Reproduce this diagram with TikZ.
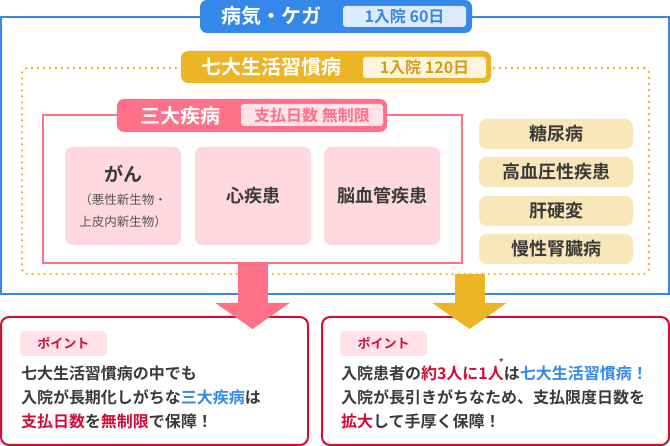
\documentclass[tikz,border=0pt]{standalone}
\usepackage{fontspec}
\setmainfont{Noto Sans CJK JP}[BoldFont={* Bold}]
\usetikzlibrary{arrows.meta}

\definecolor{blau}{HTML}{3388E8}
\definecolor{hellblau}{HTML}{DCEBFC}
\definecolor{gelb}{HTML}{EBB526}
\definecolor{hellgelb}{HTML}{FFF5DE}
\definecolor{gelbtext}{HTML}{D99E10}
\definecolor{rosa}{HTML}{FF7089}
\definecolor{hellrosa}{HTML}{FFE3E9}
\definecolor{rosabox}{HTML}{FFD8E0}
\definecolor{beige}{HTML}{FAE7B9}
\definecolor{rot}{HTML}{D50C35}
\definecolor{txt}{HTML}{3A3A3A}
\definecolor{subtxt}{HTML}{555555}

\newcommand{\fsz}[2]{\fontsize{#1}{#2}\selectfont}

\begin{document}
\begin{tikzpicture}[x=1pt, y=-1pt,
        every node/.style={inner sep=0pt, outer sep=0pt, font=\fsz{18}{22}\bfseries, text=txt},
        rahmen/.style={draw=#1, line width=2pt},
        reiter/.style={fill=#1, rounded corners=7pt, minimum height=33pt},
        titel/.style={font=\fsz{20}{24}\bfseries, text=white},
        tage/.style={rounded corners=3pt, minimum height=21pt, font=\fsz{16}{20}\bfseries},
        krank/.style={fill=rosabox, rounded corners=7pt, minimum width=116pt, minimum height=98pt, align=center},
        lebens/.style={fill=beige, rounded corners=8pt, minimum width=154pt, minimum height=30pt},
        punkt/.style={draw=rot, line width=2pt, rounded corners=8pt, minimum height=128pt},
        marke/.style={fill=hellrosa, rounded corners=4pt, minimum width=87pt, minimum height=25pt,
                      font=\fsz{13}{15}\bfseries, text=rot},
        satz/.style={anchor=north west, align=left, font=\fsz{16}{24}\bfseries},
        pfeil/.style={-{Triangle[width=73pt,length=26pt]}, line width=30pt, draw=#1}
    ]
        \useasboundingbox (0,0) rectangle (670,446);

        % Rahmen
        \node[rahmen=blau, minimum width=668pt, minimum height=277pt] (byoki) at (335,155.5) {};
        \node[draw=gelb, line width=2.6pt, dash pattern=on 0pt off 6pt, line cap=round, rounded corners=5pt,
              minimum width=627pt, minimum height=206pt] (shichi) at (335.5,171) {};
        \node[rahmen=rosa, minimum width=419pt, minimum height=148pt] (sandai) at (252.5,189) {};

        % Reiter
        \node[reiter=blau, minimum width=272pt] (byokiTab) at (336,16.5) {};
        \node[titel] (byokiTitel) at (271,16.5) {病気・ケガ};
        \node[tage, fill=hellblau, text=blau, minimum width=123pt] (byokiTage) at (404.5,16.5) {1入院 60日};

        \node[reiter=gelb, minimum width=310pt, minimum height=32pt] (shichiTab) at (336,67) {};
        \node[titel] (shichiTitel) at (271,67) {七大生活習慣病};
        \node[tage, fill=hellgelb, text=gelbtext, minimum width=123pt] (shichiTage) at (424.5,67.5) {1入院 120日};

        \node[reiter=rosa, minimum width=270pt] (sandaiTab) at (252,115.5) {};
        \node[titel] (sandaiTitel) at (180,115.5) {三大疾病};
        \node[tage, fill=hellrosa, text=rosa, minimum width=142pt, minimum height=22pt] (sandaiTage) at (312,115) {支払日数 無制限};

        % drei grosse Krankheiten
        \node[krank] (gan) at (123,196) {{\fsz{19}{22}\bfseries がん}\\[1pt]
            {\fsz{12.5}{18}\mdseries\color{subtxt}（悪性新生物・}\\
            {\fsz{12.5}{18}\mdseries\color{subtxt}上皮内新生物）}};
        \node[krank] (herz) at (253,196) {心疾患};
        \node[krank] (hirn) at (382,196) {脳血管疾患};

        % weitere Lebensstilkrankheiten
        \node[lebens] (zucker) at (556,134) {糖尿病};
        \node[lebens] (blut)   at (556,172) {高血圧性疾患};
        \node[lebens] (leber)  at (556,211) {肝硬変};
        \node[lebens] (niere)  at (556,249) {慢性腎臓病};

        % Punkte
        \node[punkt, minimum width=307pt] (punktL) at (154.5,381) {};
        \node[punkt, minimum width=347pt] (punktR) at (495.5,381) {};
        \node[marke] (markeL) at (63.5,343.5) {ポイント};
        \node[marke] (markeR) at (383.5,343.5) {ポイント};
        \node[satz] (satzL) at (21,366) {七大生活習慣病の中でも\\
            入院が長期化しがちな\textcolor{blau}{三大疾病}は\\
            \textcolor{rot}{支払日数}を\textcolor{rot}{無制限}で保障！};
        \node[satz] (satzR) at (341,366) {入院患者の\textcolor{rot}{約3人に1人\llap{\smash{\raisebox{13pt}{\fsz{10}{10}*}}}}は\textcolor{blau}{七大生活習慣病！}\\
            入院が長引きがちなため、支払限度日数を\\
            \textcolor{rot}{拡大}して手厚く保障！};

        % Pfeile
        \coordinate (rosaSpitze) at (252.5,329);
        \coordinate (gelbSpitze) at (469.5,329);
        \draw[pfeil=rosa] (sandai.south) -- (rosaSpitze);
        \draw[pfeil=gelb] (shichi.south -| gelbSpitze) -- (gelbSpitze);
    \end{tikzpicture}
\end{document}
